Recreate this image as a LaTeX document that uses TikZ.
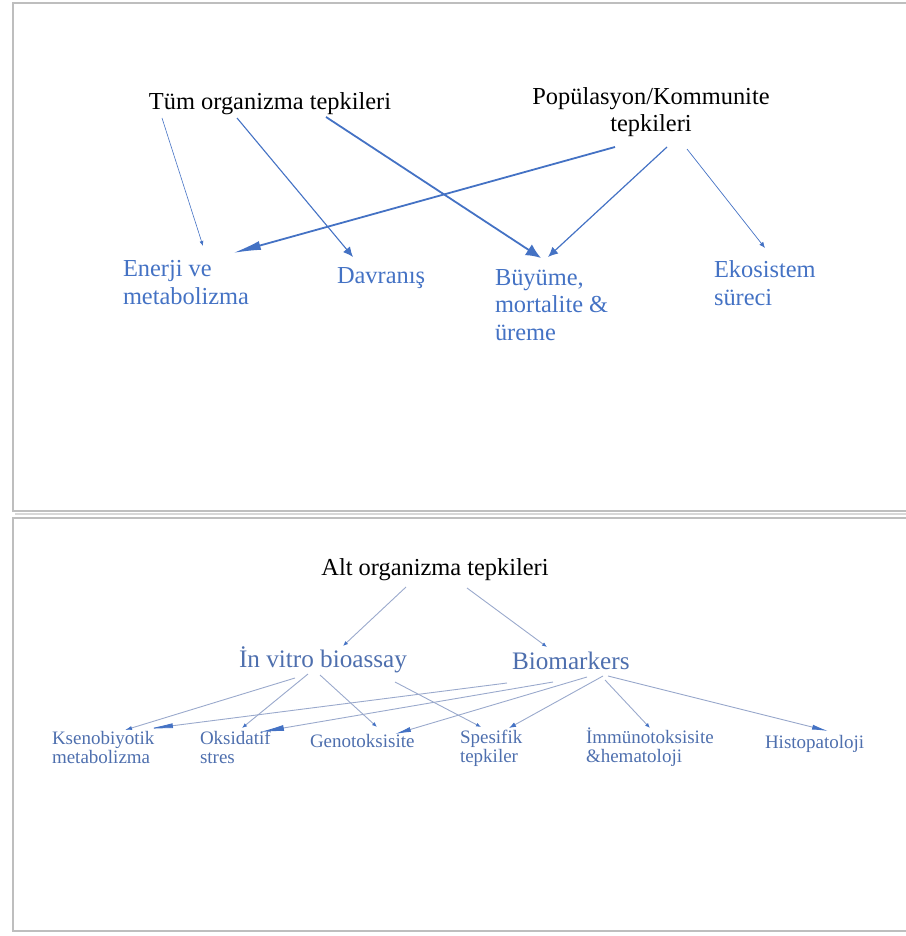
\documentclass[tikz,border=0pt]{standalone}
\usepackage{fontspec}
\setmainfont{Liberation Serif}
\usetikzlibrary{arrows.meta,calc}
\definecolor{topblue}{HTML}{4472C4}
\definecolor{lowblue}{HTML}{4E6FAE}
\definecolor{lowline}{HTML}{9AA9CC}
\definecolor{framegray}{HTML}{BEBEBE}

\begin{document}
\begin{tikzpicture}[x=0.5pt,y=-0.5pt,
  every node/.style = {inner sep=0pt, outer sep=0pt},
  head/.style = {font=\fontsize{12.2}{13.6}\selectfont, text=black, align=center, anchor=base},
  effect/.style = {font=\fontsize{12.2}{13.6}\selectfont, text=topblue, align=left, anchor=base west},
  method/.style = {font=\fontsize{12.6}{14}\selectfont, text=lowblue, anchor=base west},
  leaf/.style = {font=\fontsize{9.5}{9.3}\selectfont, text=lowblue, align=left, anchor=base west},
  link/.style = {draw=topblue, line width=#1}, link/.default=0.6pt,
  sublink/.style = {draw=lowline, line width=0.45pt}]
  \useasboundingbox (0,0) rectangle (905,936);
  % panels
  \draw[framegray!60, line width=1.2pt] (15,514) -- (920,514);
  \draw[framegray, line width=1.2pt] (13,3) rectangle (920,511);
  \draw[framegray, line width=1.2pt] (13,518) rectangle (920,931);

  % upper panel (base = last line)
  \node[head] (tum) at (270,110) {Tüm organizma tepkileri};
  \node[head] (pop) at (651,132) {Popülasyon/Kommunite\\tepkileri};
  \node[effect] (enerji) at (123,304) {Enerji ve\\metabolizma};
  \node[effect] (davranis) at (337,283) {Davranış};
  \node[effect] (buyume) at (495,340) {Büyüme,\\mortalite \&\\üreme};
  \node[effect] (ekosistem) at (714,305) {Ekosistem\\süreci};

  \draw[link=0.3pt, -{Latex[length=2.5pt,width=2pt]}] ($(tum.base)+(-108,8)$) -- ($(enerji.base west)+(80,-58)$);
  \draw[link=0.55pt, -{Latex[length=5pt,width=4.5pt]}] ($(tum.base)+(-33,8)$) -- ($(davranis.base west)+(16,-26)$);
  \draw[link=0.9pt, -{Latex[length=7.5pt,width=6.5pt]}] ($(tum.base)+(56,7)$) -- ($(buyume.base west)+(46,-82)$);
  \draw[link=0.9pt, -{Latex[length=14pt,width=4.5pt]}] ($(pop.base)+(-36,15)$) -- ($(enerji.base west)+(110,-51)$);
  \draw[link=0.6pt, -{Latex[length=5pt,width=4.5pt]}] ($(pop.base)+(16,15)$) -- ($(buyume.base west)+(53,-83)$);
  \draw[link=0.35pt, -{Latex[length=3pt,width=2.5pt]}] ($(pop.base)+(36,17)$) -- ($(ekosistem.base west)+(51,-57)$);

  % lower panel
  \node[head] (alt) at (435,575) {Alt organizma tepkileri};
  \node[method] (invitro) at (239,667) {İn vitro bioassay};
  \node[method] (bio) at (512,669) {Biomarkers};
  \node[leaf] (kseno) at (52,763) {Ksenobiyotik\\metabolizma};
  \node[leaf] (oksidatif) at (200,763) {Oksidatif\\stres};
  \node[leaf] (geno) at (310,747) {Genotoksisite};
  \node[leaf] (spesifik) at (460,762) {Spesifik\\tepkiler};
  \node[leaf] (immuno) at (586,762) {İmmünotoksisite\\\&hematoloji};
  \node[leaf] (histo) at (765,748) {Histopatoloji};

  \draw[sublink, -{Latex[length=2.5pt,width=2pt,color=topblue]}] ($(alt.base)+(-29,12)$) -- ($(invitro.base west)+(104,-21)$);
  \draw[sublink, -{Latex[length=2.5pt,width=2pt,color=topblue]}] ($(alt.base)+(32,13)$) -- ($(bio.base west)+(35,-22)$);
  \draw[sublink, -{Latex[length=3.5pt,width=2pt,color=topblue]}] ($(invitro.base west)+(56,11)$) -- ($(kseno.base west)+(73,-33)$);
  \draw[sublink, -{Latex[length=2.5pt,width=2pt,color=topblue]}] ($(invitro.base west)+(69,7)$) -- ($(oksidatif.base west)+(42,-35)$);
  \draw[sublink, -{Latex[length=2.5pt,width=2pt,color=topblue]}] ($(invitro.base west)+(81,8)$) -- ($(geno.base west)+(67,-20)$);
  \draw[sublink, -{Latex[length=2.5pt,width=2pt,color=topblue]}] ($(invitro.base west)+(156,15)$) -- ($(spesifik.base west)+(21,-35)$);
  \draw[sublink, -{Latex[length=13pt,width=2.5pt,color=topblue]}] ($(bio.base west)+(-5,14)$) -- ($(kseno.base west)+(95,-34)$);
  \draw[sublink, -{Latex[length=12pt,width=3pt,color=topblue]}] ($(bio.base west)+(41,13)$) -- ($(oksidatif.base west)+(60,-31)$);
  \draw[sublink, -{Latex[length=8pt,width=2.5pt,color=topblue]}] ($(bio.base west)+(75,8)$) -- ($(geno.base west)+(85,-13)$);
  \draw[sublink, -{Latex[length=3.5pt,width=2.5pt,color=topblue]}] ($(bio.base west)+(91,7)$) -- ($(spesifik.base west)+(49,-34)$);
  \draw[sublink, -{Latex[length=2.5pt,width=2pt,color=topblue]}] ($(bio.base west)+(93,11)$) -- ($(immuno.base west)+(64,-34)$);
  \draw[sublink, -{Latex[length=8pt,width=2.5pt,color=topblue]}] ($(bio.base west)+(96,7)$) -- ($(histo.base west)+(63,-17)$);
\end{tikzpicture}
\end{document}
